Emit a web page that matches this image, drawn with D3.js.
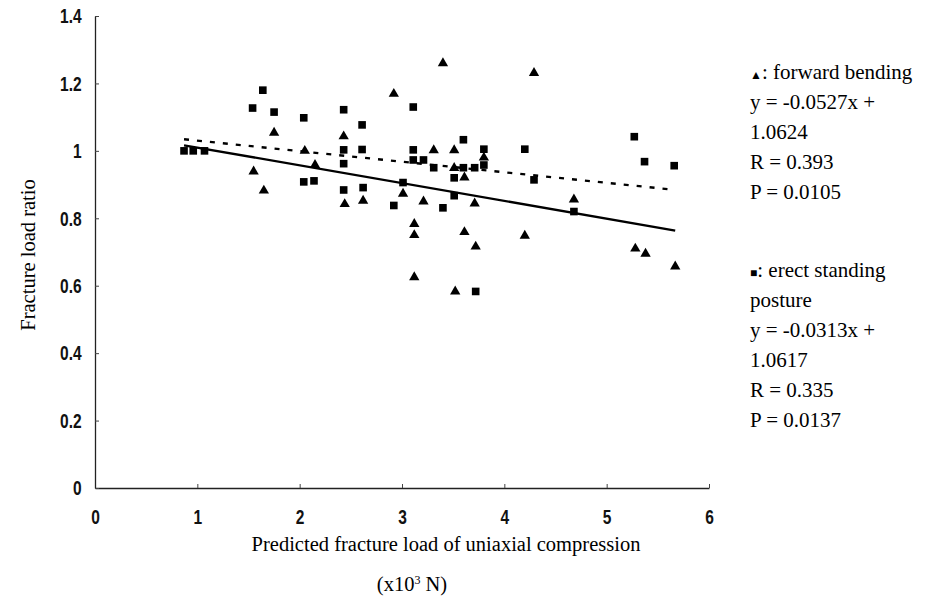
<!DOCTYPE html>
<html>
<head>
<meta charset="utf-8">
<script src="https://cdn.jsdelivr.net/npm/d3@7"></script>
<style>
  body { margin: 0; background: #fff; }
  svg { display: block; }
  .title { font-family: "Liberation Serif", "Times New Roman", serif; font-size: 20.5px; fill: #000; }
  .legend { font-family: "Liberation Serif", "Times New Roman", serif; font-size: 21px; fill: #000; }
</style>
</head>
<body>
<svg width="942" height="599"></svg>
<script>
// forward bending (triangles)
const bendX = [1.55, 1.65, 1.75, 2.05, 2.15, 2.43, 2.44, 2.62, 2.92, 3.01, 3.12, 3.12, 3.12, 3.21, 3.31,
  3.40, 3.51, 3.51, 3.52, 3.61, 3.61, 3.71, 3.72, 3.80, 4.20, 4.29, 4.68, 5.28, 5.38, 5.67]
const bendY = [0.939, 0.882, 1.054, 1.0, 0.958, 1.043, 0.842, 0.852, 1.169, 0.873, 0.783, 0.750, 0.625, 0.85, 1.002,
  1.260, 1.002, 0.949, 0.583, 0.921, 0.759, 0.844, 0.716, 0.980, 0.748, 1.231, 0.856, 0.710, 0.695, 0.657]
// erect standing posture (squares)
const erectX = [0.87, 0.96, 1.07, 1.54, 1.64, 1.75, 2.04, 2.04, 2.14, 2.43, 2.43, 2.43, 2.43, 2.61, 2.61,
  2.62, 2.92, 3.01, 3.11, 3.11, 3.11, 3.21, 3.31, 3.40, 3.51, 3.51, 3.60, 3.60, 3.71, 3.72,
  3.80, 3.80, 4.20, 4.29, 4.68, 5.27, 5.37, 5.66]
const erectY = [1.0, 1.0, 1.0, 1.127, 1.18, 1.115, 1.098, 0.908, 0.911, 1.122, 1.003, 0.962, 0.884, 1.077, 1.004,
  0.891, 0.838, 0.906, 1.130, 1.003, 0.973, 0.973, 0.950, 0.831, 0.920, 0.867, 1.033, 0.950, 0.950, 0.583,
  1.005, 0.958, 1.005, 0.914, 0.820, 1.042, 0.968, 0.956]
// regression lines [slope, intercept] and their x extent
const bendFit = [-0.0527, 1.0624]
const erectFit = [-0.0313, 1.0617]
const fitRange = [0.87, 5.67]

const xTicks = [0, 1, 2, 3, 4, 5, 6]
const yTicks = [0, 0.2, 0.4, 0.6, 0.8, 1, 1.2, 1.4]
const bendLegend = ['\u25B2: forward bending', 'y = -0.0527x +', '1.0624', 'R = 0.393', 'P = 0.0105']
const erectLegend = ['\u25A0: erect standing', 'posture', 'y = -0.0313x +', '1.0617', 'R = 0.335', 'P = 0.0137']

const svg = d3.select('svg')
const x = d3.scaleLinear().domain([0, 6]).range([95, 709])
const y = d3.scaleLinear().domain([0, 1.4]).range([488, 16])
const NARROW = 0.74 // tick labels are a narrow face in the original

// axes, ticks point inward
svg.append('g')
  .attr('transform', 'translate(0,' + y(0) + ')')
  .call(d3.axisBottom(x).tickValues(xTicks).tickFormat(d3.format('d')).tickSizeInner(-4).tickSizeOuter(0).tickPadding(21))
svg.append('g')
  .attr('transform', 'translate(' + x(0) + ',0)')
  .call(d3.axisLeft(y).tickValues(yTicks).tickFormat(d => d).tickSizeInner(-4).tickSizeOuter(0).tickPadding(18))
svg.selectAll('.tick text')
  .attr('transform', `scale(${NARROW},1)`)
  .style('font-family', '"Liberation Sans", Arial, sans-serif')
  .style('font-size', '21px')
  .style('font-weight', 'bold')
  .style('fill', '#111')
svg.selectAll('.domain').attr('stroke', '#222').attr('stroke-width', 1.3)
svg.selectAll('.tick line').attr('stroke', '#444')

// regression lines
let fitLine = fit => d3.line()
  .x(d => x(d))
  .y(d => y(fit[0] * d + fit[1]))
svg.append('path')
  .attr('d', fitLine(erectFit)(fitRange))
  .attr('fill', 'none')
  .attr('stroke', '#000')
  .attr('stroke-width', 2.3)
  .attr('stroke-dasharray', '5,8')
svg.append('path')
  .attr('d', fitLine(bendFit)(fitRange))
  .attr('fill', 'none')
  .attr('stroke', '#000')
  .attr('stroke-width', 2.3)

// markers
svg.selectAll('.sq')
  .data(erectX)
  .enter()
  .append('path')
  .attr('class', 'sq')
  .attr('d', d3.symbol(d3.symbolSquare, 58))
  .attr('transform', (d, i) => `translate(${x(d)},${y(erectY[i])})`)
  .attr('fill', '#000')
svg.selectAll('.tri')
  .data(bendX)
  .enter()
  .append('path')
  .attr('class', 'tri')
  .attr('d', d3.symbol(d3.symbolTriangle, 46))
  .attr('transform', (d, i) => `translate(${x(d)},${y(bendY[i])})`)
  .attr('fill', '#000')

// axis titles
svg.append('text')
  .attr('class', 'title')
  .attr('transform', 'translate(35,255) rotate(-90)')
  .attr('text-anchor', 'middle')
  .text('Fracture load ratio')
svg.append('text')
  .attr('class', 'title')
  .attr('x', 446)
  .attr('y', 551)
  .attr('text-anchor', 'middle')
  .text('Predicted fracture load of uniaxial compression')
let unit = svg.append('text')
  .attr('class', 'title')
  .attr('x', 412)
  .attr('y', 591)
  .attr('text-anchor', 'middle')
unit.append('tspan').text('(x10')
unit.append('tspan').attr('dy', -7).style('font-size', '12px').text('3')
unit.append('tspan').attr('dy', 7).text(' N)')

// legend text blocks
function legendBlock(lines, top) {
  svg.selectAll(null)
    .data(lines)
    .enter()
    .append('text')
    .attr('class', 'legend')
    .attr('x', 750)
    .attr('y', (d, i) => top + i * 30)
    .each(function (d, i) {
      let t = d3.select(this)
      if (i == 0) {
        t.append('tspan').style('font-size', '12px').text(d[0])
        t.append('tspan').text(d.slice(1))
      } else {
        t.text(d)
      }
    })
}
legendBlock(bendLegend, 79)
legendBlock(erectLegend, 277)
</script>
</body>
</html>
